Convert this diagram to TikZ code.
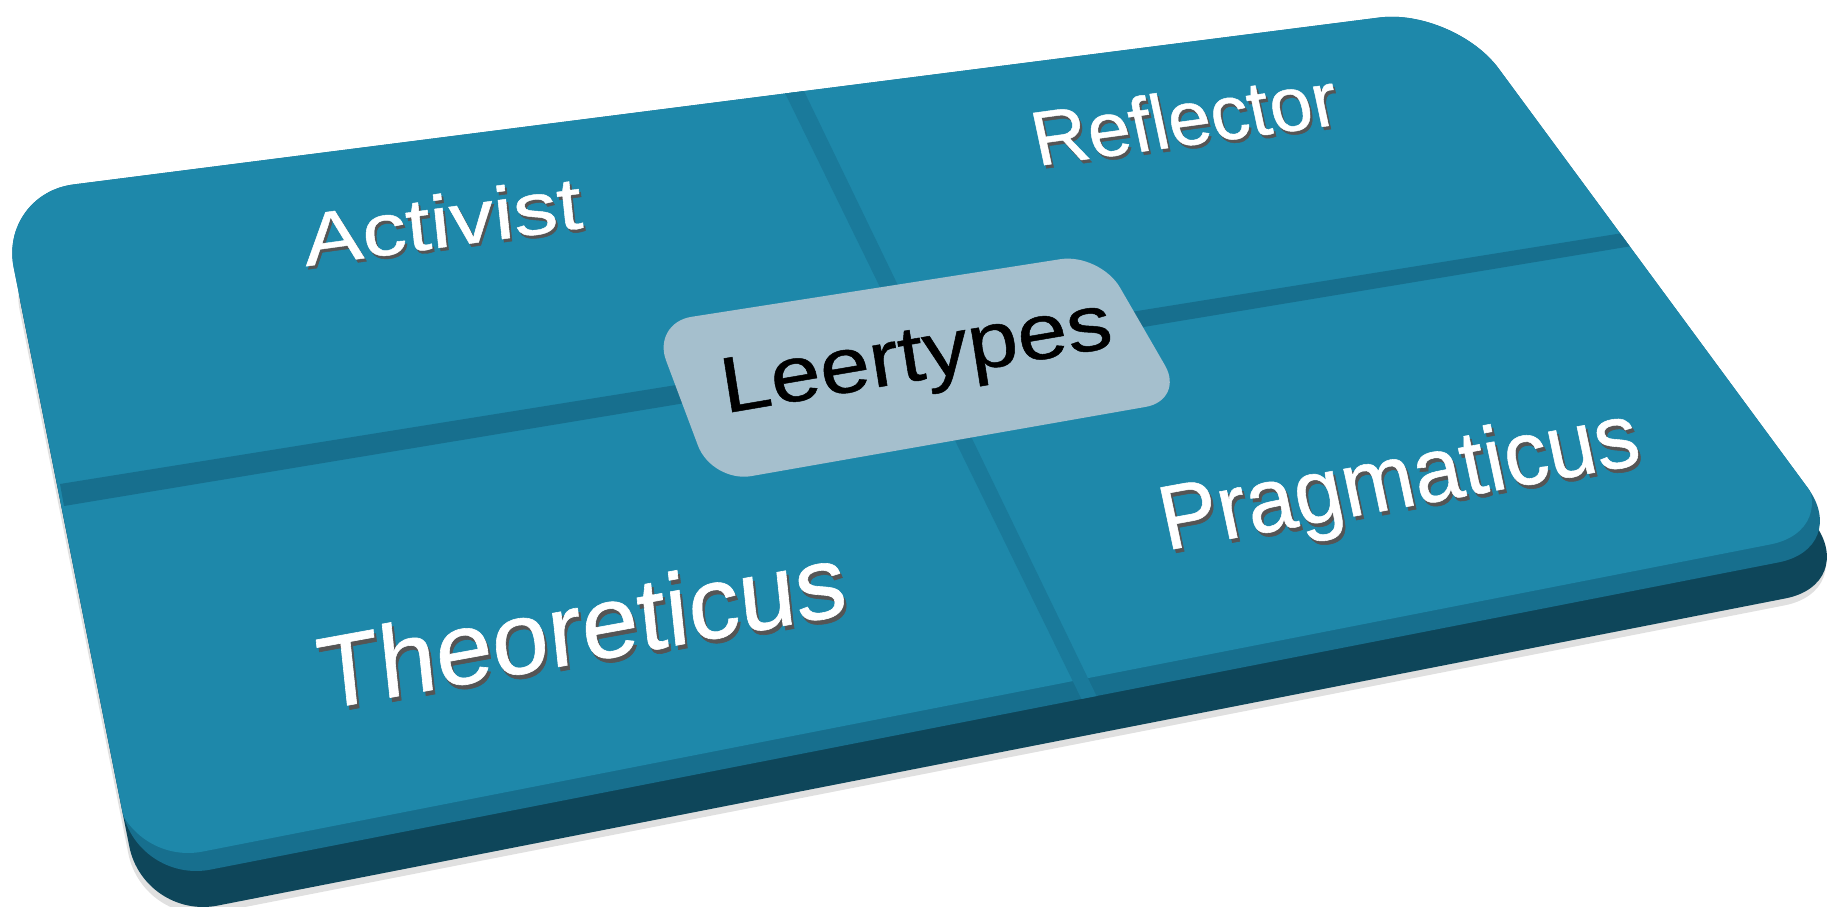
\documentclass[tikz,border=0pt]{standalone}
\usepackage{fontspec}
\setmainfont{Liberation Sans}
\newfontfamily\tilefont[FakeBold=0.6]{Liberation Sans}
\definecolor{tealface}{HTML}{1E88AA}
\definecolor{tealside}{HTML}{0E465A}
\definecolor{tealbevel}{HTML}{176F8E}
\definecolor{tealgroove}{HTML}{1A7A9B}
\definecolor{labelfill}{HTML}{A5BFCD}
\definecolor{txtshadow}{HTML}{555555}
% outline of the top face of the board
\def\slab{(-1,194) -- (1454,8) -- (1852,548) -- (137,884) -- cycle}
\begin{document}
\begin{tikzpicture}[x=0.01cm,y=-0.01cm,
  slabcorner/.style={rounded corners=7.5mm},
  tiletext/.style={font=\tilefont\fontsize{20}{24}\selectfont,anchor=base,inner sep=0pt,transform shape}]
\useasboundingbox (0,0) rectangle (1834,907);
% shadow and side of the board
\fill[black!12,slabcorner,shift={(6,43)}] \slab;
\fill[tealside,slabcorner,shift={(7,36)}] \slab;
% top face, bevel along the edges
\begin{scope}
\clip[slabcorner] \slab;
\fill[tealbevel] (0,0) rectangle (1900,950);
\fill[tealface,slabcorner,shift={(-8,-18)}] \slab;
% grooves between the tiles
\fill[tealbevel] (64,506) -- (1632,246) -- (1623,233) -- (60,484) -- cycle;
\fill[tealgroove] (784,91) -- (1082,700) -- (1097,697) -- (803,89) -- cycle;
\end{scope}
% label in the middle
\fill[labelfill,rounded corners=4mm] (652,323) -- (1100,253) -- (1185,400) -- (712,483) -- cycle;
\begin{scope}[shift={(920,380)},cm={1.262,0.216,-0.175,1.107,(0,0)}]
  \node[tiletext,text=black] (leertypes) {Leertypes};
\end{scope}
% the four tiles
\foreach \nm/\px/\py/\ua/\ub/\va/\vb/\txt in {
    activist/445/247/1.248/0.173/-0.110/1.045/Activist,
    reflector/1190/145/1.080/0.149/-0.229/1.076/Reflector,
    theoreticus/585/662/1.436/0.262/-0.152/1.443/Theoreticus,
    pragmaticus/1405/507/1.220/0.222/-0.270/1.271/Pragmaticus}{
  \begin{scope}[shift={(\px,\py)},cm={\ua,\ub,\va,\vb,(0,0)}]
    \node[tiletext,text=txtshadow,xshift=0.4pt,yshift=-0.9pt] (\nm-shadow) {\txt};
    \node[tiletext,text=white] (\nm) {\txt};
  \end{scope}
}
\end{tikzpicture}
\end{document}
